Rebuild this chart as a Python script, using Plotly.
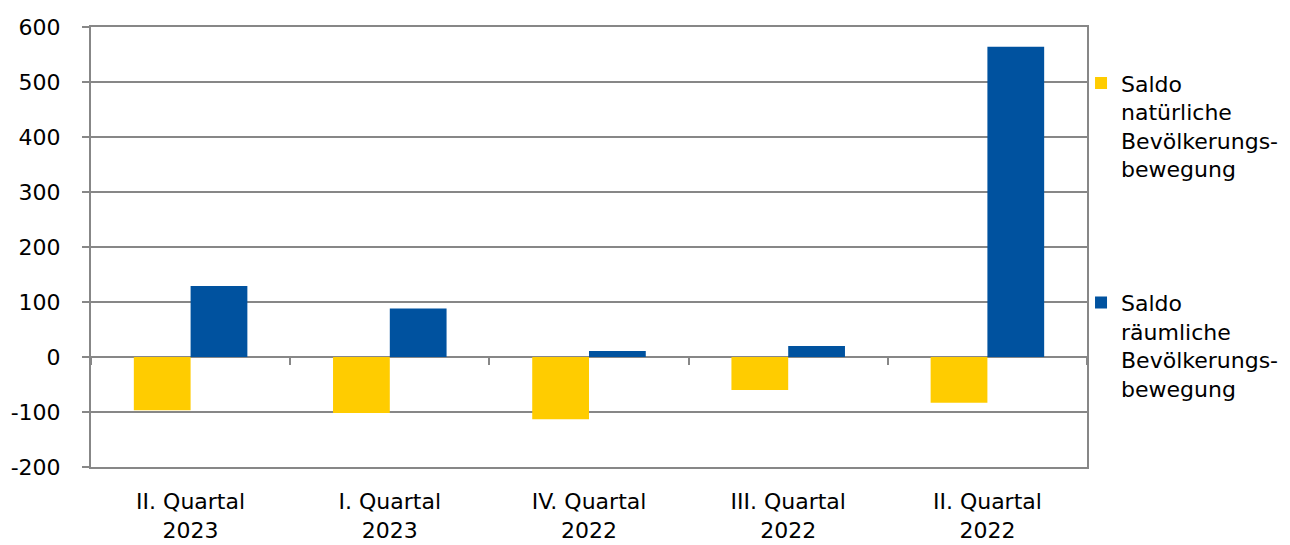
import plotly.graph_objects as go

categories = ["II. Quartal<br>2023", "I. Quartal<br>2023", "IV. Quartal<br>2022",
              "III. Quartal<br>2022", "II. Quartal<br>2022"]
natuerlich = [-97, -102, -113, -60, -83]
raeumlich = [129, 88, 11, 20, 564]
name_nat = "Saldo<br>natürliche<br>Bevölkerungs-<br>bewegung"
name_raum = "Saldo<br>räumliche<br>Bevölkerungs-<br>bewegung"
y_ticks = [-200, -100, 0, 100, 200, 300, 400, 500, 600]
y_ticktext = ["-200", "-100", "0", "100", "200", "300", "400", "500", "600"]

FONT = "DejaVu Sans, Verdana, sans-serif"
GRID = "#878787"

fig = go.Figure()
fig.add_trace(go.Bar(x=categories, y=natuerlich, name=name_nat, marker_color="#FFCC00",
                     marker_line_width=0, legendgroup="a"))
fig.add_trace(go.Bar(x=categories, y=raeumlich, name=name_raum, marker_color="#00529F",
                     marker_line_width=0, legendgroup="b"))
# invisible trace for the category tick marks on the zero line
fig.add_trace(go.Scatter(x=categories, y=[0] * len(categories), xaxis="x2", mode="markers",
                         marker_opacity=0, showlegend=False, hoverinfo="skip"))

fig.update_layout(
    width=1290, height=545,
    margin=dict(l=91, r=203, t=27, b=78, autoexpand=False),
    paper_bgcolor="white", plot_bgcolor="white",
    font=dict(family=FONT, size=22, color="black"),
    barmode="group", bargap=0.43, bargroupgap=0,
    xaxis=dict(showline=True, mirror=True, linecolor=GRID, linewidth=2,
               ticks="", showgrid=False, ticklabelstandoff=14, automargin=False,
               tickfont=dict(size=22)),
    xaxis2=dict(overlaying="x", anchor="free", position=0.25, side="bottom",
                matches="x", showticklabels=False, ticks="outside", tickson="boundaries",
                ticklen=7, tickcolor=GRID, tickwidth=2, showline=False, showgrid=False,
                automargin=False),
    yaxis=dict(range=[-200, 600], tickvals=y_ticks, ticktext=y_ticktext,
               showline=True, mirror=True, automargin=False,
               linecolor=GRID, linewidth=2, gridcolor=GRID, gridwidth=2,
               zeroline=True, zerolinecolor=GRID, zerolinewidth=2,
               ticks="outside", ticklen=7, tickcolor=GRID, tickwidth=2,
               ticklabelstandoff=17, tickfont=dict(size=22)),
    legend=dict(x=0.994, xanchor="left", y=0.92, yanchor="top", valign="top",
                tracegroupgap=102, font=dict(size=22), bgcolor="rgba(0,0,0,0)"),
    showlegend=True,
)

fig.write_html("out.html", config={"displayModeBar": False},
               post_script="document.body.style.margin='0';document.body.style.padding='0';")
